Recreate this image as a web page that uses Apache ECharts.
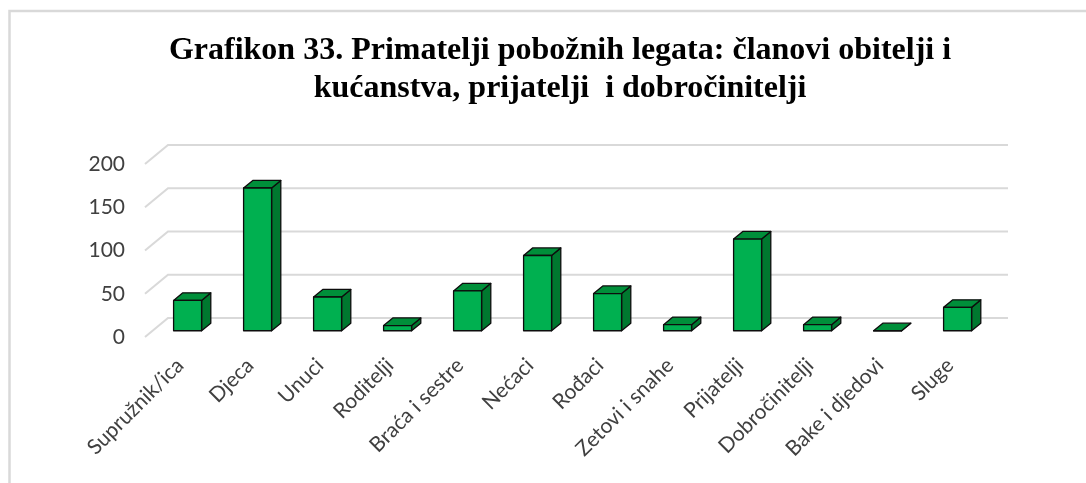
<!DOCTYPE html>
<html>
<head>
<meta charset="utf-8">
<script src="https://cdn.jsdelivr.net/npm/echarts@6/dist/echarts.min.js"></script>
<style>
  html, body { margin: 0; padding: 0; background: #fff; }
  #main { width: 1086px; height: 483px; }
</style>
</head>
<body>
<div id="main"></div>
<script>
var categories = ['Supružnik/ica', 'Djeca', 'Unuci', 'Roditelji', 'Braća i sestre', 'Nećaci',
  'Rođaci', 'Zetovi i snahe', 'Prijatelji', 'Dobročinitelji', 'Bake i djedovi', 'Sluge'];
var values = [35, 165, 39, 6, 46, 87, 43, 7, 106, 7, 0, 27];
var yTicks = [0, 50, 100, 150, 200];

// depth of the 3d walls (px) and where the bar sits inside it
var depthX = 23, depthY = -19;
var barFront = 0.33, barDepth = 0.4, barWidth = 0.4;

var chart = echarts.init(document.getElementById('main'));

function renderWall(params, api) {
  var v = api.value(1);
  var bw = api.size([1, 0])[0];
  var p0 = api.coord([0, v]);
  var p1 = api.coord([categories.length - 1, v]);
  var left = p0[0] - bw / 2;
  var right = p1[0] + bw / 2;
  var y = p0[1];
  return {
    type: 'polyline',
    shape: { points: [[left, y], [left + depthX, y + depthY], [right + depthX, y + depthY]] },
    style: { stroke: '#d9d9d9', lineWidth: 2, fill: null }
  };
}

function renderBar(params, api) {
  var idx = api.value(0);
  var val = api.value(1);
  var base = api.coord([idx, 0]);
  var top = api.coord([idx, val]);
  var bw = api.size([1, 0])[0] * barWidth;
  var ox = depthX * barFront, oy = depthY * barFront;
  var dx = depthX * barDepth, dy = depthY * barDepth;
  var x0 = base[0] - bw / 2 + ox;
  var x1 = x0 + bw;
  var yb = base[1] + oy;
  var yt = top[1] + oy;
  var line = { stroke: '#0d0d0d', lineWidth: 1.3, lineJoin: 'round' };
  return {
    type: 'group',
    children: [
      {
        type: 'polygon',
        shape: { points: [[x1, yb], [x1 + dx, yb + dy], [x1 + dx, yt + dy], [x1, yt]] },
        style: Object.assign({ fill: '#00782f' }, line)
      },
      {
        type: 'polygon',
        shape: { points: [[x0, yt], [x1, yt], [x1 + dx, yt + dy], [x0 + dx, yt + dy]] },
        style: Object.assign({ fill: '#008f3a' }, line)
      },
      {
        type: 'rect',
        shape: { x: x0, y: yt, width: bw, height: yb - yt },
        style: Object.assign({ fill: '#00b050' }, line)
      }
    ]
  };
}

var option = {
  backgroundColor: '#ffffff',
  animation: false,
  title: {
    text: 'Grafikon 33. Primatelji pobožnih legata: članovi obitelji i\nkućanstva, prijatelji  i dobročinitelji',
    left: 555,
    top: 27,
    textAlign: 'center',
    textStyle: {
      fontFamily: 'Liberation Serif',
      fontWeight: 'bold',
      fontSize: 32,
      lineHeight: 38,
      color: '#000000'
    }
  },
  graphic: [{
    type: 'rect',
    shape: { x: 9.5, y: 11, width: 1100, height: 500 },
    style: { fill: null, stroke: '#d9d9d9', lineWidth: 2.5 },
    silent: true
  }],
  grid: { left: 145, right: 101, top: 164, bottom: 146 },
  xAxis: {
    type: 'category',
    data: categories,
    axisLine: { show: false },
    axisTick: { show: false },
    axisLabel: {
      interval: 0,
      rotate: 45,
      margin: 25,
      fontFamily: 'Lato',
      fontSize: 21,
      color: '#404040'
    }
  },
  yAxis: {
    type: 'value',
    min: 0,
    max: 200,
    interval: 50,
    axisLine: { show: false },
    axisTick: { show: false },
    splitLine: { show: false },
    axisLabel: {
      margin: 20,
      fontFamily: 'Lato',
      fontSize: 21,
      color: '#404040'
    }
  },
  series: [
    {
      type: 'custom',
      name: 'walls',
      z: 1,
      silent: true,
      renderItem: renderWall,
      data: yTicks.map(function (v) { return [0, v]; })
    },
    {
      type: 'custom',
      name: 'Primatelji',
      z: 2,
      renderItem: renderBar,
      encode: { x: 0, y: 1 },
      data: values.map(function (v, i) { return [i, v]; })
    }
  ]
};

chart.setOption(option);
</script>
</body>
</html>
